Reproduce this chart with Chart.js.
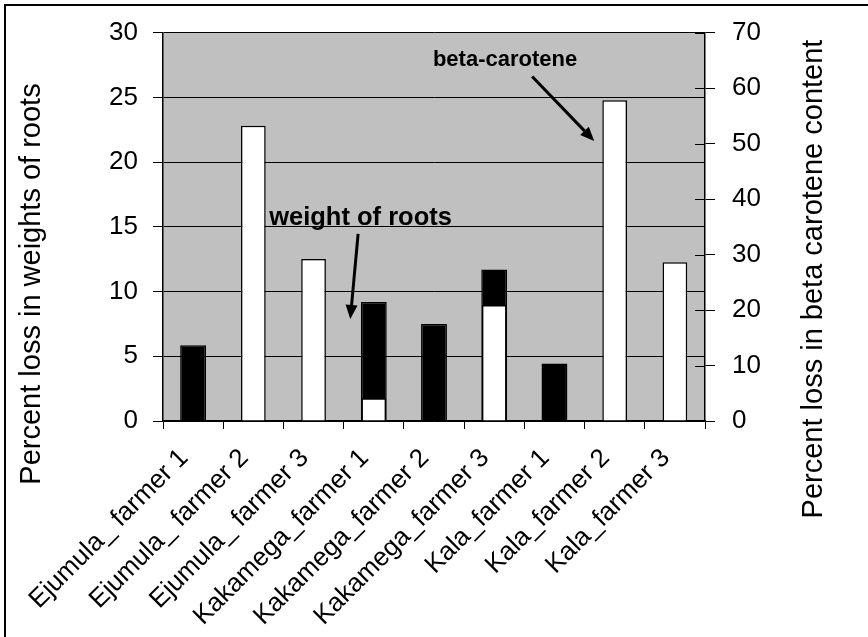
<!DOCTYPE html>
<html>
<head>
<meta charset="utf-8">
<script src="https://cdn.jsdelivr.net/npm/chart.js@4/dist/chart.umd.min.js"></script>
<style>
  html, body { margin: 0; padding: 0; background: #fff; }
  canvas { display: block; }
</style>
</head>
<body>
<canvas id="chart" width="868" height="637"></canvas>
<script>
// Farms sampled
const categories = [
  'Ejumula_ farmer 1', 'Ejumula_ farmer 2', 'Ejumula_ farmer 3',
  'Kakamega_farmer 1', 'Kakamega_farmer 2', 'Kakamega_farmer 3',
  'Kala_farmer 1', 'Kala_farmer 2', 'Kala_farmer 3'
];

// Percent loss in weight of roots (left axis)
const rootWeightLoss = [5.85, null, null, 9.2, 7.5, 11.7, 4.45, null, null];

// Percent loss in beta carotene content (right axis)
const betaCaroteneLoss = [null, 53.2, 29.2, 4.1, null, 20.9, null, 57.8, 28.6];

// Axis ranges and tick steps
const leftTicks = { min: 0, max: 30, step: 5 };
const rightTicks = { min: 0, max: 70, step: 10 };

// Axis titles
const leftTitle = 'Percent loss in weights of roots';
const rightTitle = 'Percent loss in beta carotene content';

// Callout labels with arrows, in category index / left-axis units
const callouts = [
  { text: 'weight of roots', size: 25.5, x: 2.78, y: 15.15, from: [2.74, 14.46], to: [2.61, 7.88] },
  { text: 'beta-carotene',   size: 22,   x: 5.18, y: 27.4,  from: [5.63, 26.61], to: [6.66, 21.63] }
];

const FONT = "'Liberation Sans', Arial, Helvetica, sans-serif";

// Grey plot area
const plotBackground = {
  id: 'plotBackground',
  beforeDraw(chart) {
    const { ctx, chartArea: a } = chart;
    ctx.save();
    ctx.fillStyle = '#c0c0c0';
    ctx.fillRect(a.left, a.top, a.right - a.left, a.bottom - a.top);
    ctx.restore();
  }
};

// Right-axis tick marks that cross into the plot, titles, callouts and frame
const decorations = {
  id: 'decorations',
  afterDraw(chart) {
    const { ctx, chartArea: a, scales } = chart;
    ctx.save();

    // inner half of the right axis tick marks
    ctx.strokeStyle = '#000';
    ctx.lineWidth = 1;
    scales.y2.ticks.forEach(t => {
      const py = Math.round(scales.y2.getPixelForValue(t.value)) + 0.5;
      ctx.beginPath();
      ctx.moveTo(a.right - 10, py);
      ctx.lineTo(a.right, py);
      ctx.stroke();
    });

    // axis titles
    ctx.fillStyle = '#000';
    ctx.font = '29px ' + FONT;
    ctx.textAlign = 'center';
    ctx.textBaseline = 'alphabetic';
    ctx.save();
    ctx.translate(a.left - 123, a.bottom - 137);
    ctx.rotate(-Math.PI / 2);
    ctx.fillText(leftTitle, 0, 0);
    ctx.restore();
    ctx.save();
    ctx.translate(a.right + 117, a.bottom - 142);
    ctx.rotate(-Math.PI / 2);
    ctx.fillText(rightTitle, 0, 0);
    ctx.restore();

    // callouts
    const px = v => scales.x.getPixelForValue(0) + v * (scales.x.getPixelForValue(1) - scales.x.getPixelForValue(0));
    const py = v => scales.y.getPixelForValue(v);
    callouts.forEach(c => {
      ctx.font = 'bold ' + c.size + 'px ' + FONT;
      ctx.textAlign = 'center';
      ctx.textBaseline = 'alphabetic';
      ctx.fillText(c.text, px(c.x), py(c.y));

      const x1 = px(c.from[0]), y1 = py(c.from[1]);
      const x2 = px(c.to[0]), y2 = py(c.to[1]);
      const ang = Math.atan2(y2 - y1, x2 - x1);
      const head = 14, half = 6;
      const bx = x2 - head * Math.cos(ang), by = y2 - head * Math.sin(ang);
      ctx.strokeStyle = '#000';
      ctx.lineWidth = 3;
      ctx.beginPath();
      ctx.moveTo(x1, y1);
      ctx.lineTo(bx, by);
      ctx.stroke();
      ctx.beginPath();
      ctx.moveTo(x2, y2);
      ctx.lineTo(bx + half * Math.sin(ang), by - half * Math.cos(ang));
      ctx.lineTo(bx - half * Math.sin(ang), by + half * Math.cos(ang));
      ctx.closePath();
      ctx.fill();
    });

    // outer frame
    ctx.fillStyle = '#000';
    ctx.fillRect(4, 4, chart.width - 4, 2);
    ctx.fillRect(4, 4, 2, chart.height - 4);
    ctx.restore();
  }
};

new Chart(document.getElementById('chart'), {
  type: 'bar',
  data: {
    labels: categories,
    datasets: [
      {
        label: 'weight of roots',
        data: rootWeightLoss,
        yAxisID: 'y',
        backgroundColor: '#000000',
        borderColor: '#000000',
        borderWidth: 1.5,
        grouped: false,
        order: 2,
        categoryPercentage: 1,
        barPercentage: 0.43
      },
      {
        label: 'beta-carotene',
        data: betaCaroteneLoss,
        yAxisID: 'y2',
        backgroundColor: '#ffffff',
        borderColor: '#000000',
        borderWidth: 1.5,
        grouped: false,
        order: 1,
        categoryPercentage: 1,
        barPercentage: 0.41
      }
    ]
  },
  options: {
    responsive: false,
    animation: false,
    devicePixelRatio: 1,
    layout: { padding: { top: 29, left: 0, right: 0, bottom: 0 } },
    plugins: {
      legend: { display: false },
      tooltip: { enabled: false }
    },
    scales: {
      x: {
        grid: { offset: true, drawOnChartArea: false, color: '#000', tickLength: 8, lineWidth: 1 },
        border: { color: '#000', width: 1.5 },
        ticks: {
          color: '#000',
          font: { family: FONT, size: 26 },
          minRotation: 45,
          maxRotation: 45,
          autoSkip: false,
          padding: 14,
          labelOffset: -9
        },
        afterFit(scale) { scale.height = 216; }
      },
      y: {
        position: 'left',
        min: leftTicks.min,
        max: leftTicks.max,
        grid: { color: '#000', tickLength: 10, lineWidth: 1 },
        border: { color: '#000', width: 1.5 },
        ticks: {
          stepSize: leftTicks.step,
          color: '#000',
          padding: 15,
          font: { family: FONT, size: 26 }
        },
        afterFit(scale) { scale.width = 163; }
      },
      y2: {
        position: 'right',
        min: rightTicks.min,
        max: rightTicks.max,
        grid: { drawOnChartArea: false, color: '#000', tickLength: 10, lineWidth: 1 },
        border: { color: '#000', width: 1.5 },
        ticks: {
          stepSize: rightTicks.step,
          color: '#000',
          padding: 17,
          font: { family: FONT, size: 26 }
        },
        afterFit(scale) { scale.width = 163; }
      }
    }
  },
  plugins: [plotBackground, decorations]
});
</script>
</body>
</html>
